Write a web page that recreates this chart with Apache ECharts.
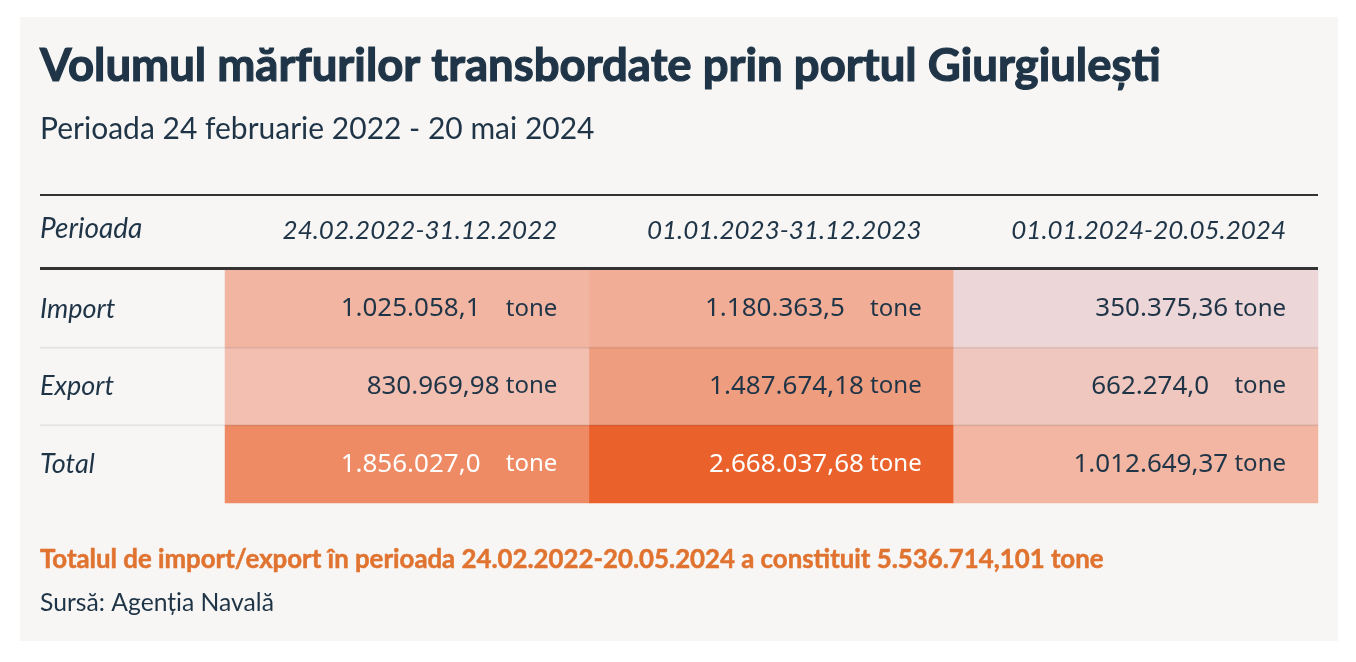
<!DOCTYPE html>
<html>
<head>
<meta charset="utf-8">
<title>Volumul mărfurilor transbordate prin portul Giurgiulești</title>
<script src="https://cdn.jsdelivr.net/npm/echarts@6.0.0/dist/echarts.min.js"></script>
<style>
    html, body { margin: 0; padding: 0; background: #ffffff; }
    #card { position: absolute; left: 20px; top: 17px; width: 1318px; height: 624px; background: #f7f6f5; }
    #chart { position: absolute; left: 0; top: 0; width: 1356px; height: 662px; }
</style>
</head>
<body>
<div id="card"></div>
<div id="chart"></div>
<script>
// perioade (coloane) si tipuri (randuri)
const periods = ['24.02.2022-31.12.2022', '01.01.2023-31.12.2023', '01.01.2024-20.05.2024'];
const rows = ['Import', 'Export', 'Total'];

// valori, tone
const importTone = [1025058.1, 1180363.5, 350375.36];
const exportTone = [830969.98, 1487674.18, 662274.0];
const totalTone = [1856027.0, 2668037.68, 1012649.37];

// cum apar in tabel
const importText = ['1.025.058,1', '1.180.363,5', '350.375,36'];
const exportText = ['830.969,98', '1.487.674,18', '662.274,0'];
const totalText = ['1.856.027,0', '2.668.037,68', '1.012.649,37'];

const grandTotalText = '5.536.714,101';

const navy = '#1f3547';
const latinFont = 'Lato, "Noto Sans", sans-serif';
const numFont = '"Noto Sans", Lato, sans-serif';

const values = [importTone, exportTone, totalTone];
const texts = [importText, exportText, totalText];

const data = [];
values.forEach((row, y) => {
    row.forEach((v, x) => {
        data.push([x, y, v]);
    });
});

const allValues = [].concat(importTone, exportTone, totalTone);

// layout
const gridLeft = 225, gridRight = 38, gridTop = 270, gridBottom = 159;
const tableLeft = 40, tableRight = 1318;
const rowH = (662 - gridTop - gridBottom) / rows.length;
const colW = (1356 - gridLeft - gridRight) / periods.length;
const cellPad = 32;

const chart = echarts.init(document.getElementById('chart'));

const option = {
    animation: false,
    title: [
        {
            text: 'Volumul mărfurilor transbordate prin portul Giurgiulești',
            left: 40,
            top: 43,
            padding: 0,
            textStyle: {
                fontFamily: latinFont, fontSize: 45.5, fontWeight: 'bold', color: navy,
                textBorderColor: navy, textBorderWidth: 1.2
            }
        },
        {
            text: 'Perioada 24 februarie 2022 - 20 mai 2024',
            left: 40,
            top: 114,
            padding: 0,
            textStyle: { fontFamily: latinFont, fontSize: 30, fontWeight: 'normal', color: navy }
        },
        {
            text: 'Perioada',
            left: 40,
            top: 215,
            padding: 0,
            textStyle: { fontFamily: latinFont, fontSize: 28, fontStyle: 'italic', fontWeight: 'normal', color: navy }
        },
        {
            text: 'Totalul de import/export în perioada 24.02.2022-20.05.2024 a constituit ' + grandTotalText + ' tone',
            left: 40,
            top: 547,
            padding: 0,
            textStyle: {
                fontFamily: latinFont, fontSize: 25.8, fontWeight: 'bold', color: '#e07330',
                textBorderColor: '#e07330', textBorderWidth: 0.5
            }
        },
        {
            text: 'Sursă: Agenția Navală',
            left: 40,
            top: 591,
            padding: 0,
            textStyle: { fontFamily: latinFont, fontSize: 24.7, fontWeight: 'normal', color: navy }
        }
    ],
    grid: {
        left: gridLeft,
        right: gridRight,
        top: gridTop,
        bottom: gridBottom
    },
    xAxis: {
        type: 'category',
        position: 'top',
        data: periods,
        axisLine: { show: false },
        axisTick: { show: false },
        splitLine: { show: false },
        axisLabel: {
            margin: 26,
            formatter: (v) => '{h|' + v + '}',
            rich: {
                h: {
                    width: colW - 2 * cellPad,
                    align: 'right',
                    fontFamily: latinFont,
                    fontSize: 26,
                    fontStyle: 'italic',
                    color: navy
                }
            }
        }
    },
    yAxis: {
        type: 'category',
        inverse: true,
        data: rows,
        axisLine: { show: false },
        axisTick: { show: false },
        splitLine: { show: false },
        axisLabel: {
            align: 'left',
            margin: gridLeft - tableLeft,
            fontFamily: latinFont,
            fontSize: 27,
            fontStyle: 'italic',
            color: navy
        }
    },
    visualMap: {
        show: false,
        type: 'continuous',
        min: Math.min(...allValues),
        max: Math.max(...allValues),
        dimension: 2,
        inRange: {
            color: ['#edd6d7', '#f3baa9', '#ef9c7d', '#ed7f53', '#ea612b']
        }
    },
    series: [{
        type: 'heatmap',
        data: data,
        itemStyle: { borderWidth: 0 },
        emphasis: { disabled: true },
        label: {
            show: true,
            align: 'right',
            offset: [colW / 2 - cellPad, 0],
            formatter: (p) => {
                const t = texts[p.value[1]][p.value[0]];
                const light = p.value[2] > 1600000;
                const s = light ? 'w' : 'n';
                const oneDecimal = t.split(',')[1].length === 1;
                return '{' + s + '|' + t + '}' + (oneDecimal ? '{g| }' : '') + '{' + s + 't| tone}';
            },
            rich: {
                n: { fontFamily: numFont, fontSize: 26, color: navy },
                w: { fontFamily: numFont, fontSize: 26, color: '#ffffff' },
                nt: { fontFamily: numFont, fontSize: 24, color: navy },
                wt: { fontFamily: numFont, fontSize: 24, color: '#ffffff' },
                g: { width: 19, fontSize: 24 }
            }
        }
    }],
    graphic: [
        {
            type: 'line',
            z: 10,
            shape: { x1: tableLeft, y1: 195, x2: tableRight, y2: 195 },
            style: { stroke: '#333333', lineWidth: 2 }
        },
        {
            type: 'line',
            z: 10,
            shape: { x1: tableLeft, y1: gridTop - 1.5, x2: tableRight, y2: gridTop - 1.5 },
            style: { stroke: '#333333', lineWidth: 3 }
        },
        {
            type: 'line',
            z: 10,
            shape: { x1: tableLeft, y1: gridTop + rowH, x2: tableRight, y2: gridTop + rowH },
            style: { stroke: 'rgba(0,0,0,0.07)', lineWidth: 2 }
        },
        {
            type: 'line',
            z: 10,
            shape: { x1: tableLeft, y1: gridTop + 2 * rowH, x2: tableRight, y2: gridTop + 2 * rowH },
            style: { stroke: 'rgba(0,0,0,0.07)', lineWidth: 2 }
        }
    ]
};

chart.setOption(option);
</script>
</body>
</html>
